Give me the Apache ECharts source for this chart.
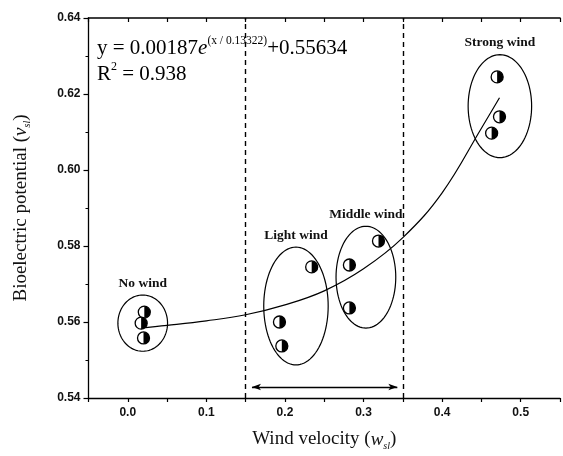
<!DOCTYPE html>
<html>
<head>
<meta charset="utf-8">
<script src="https://cdn.jsdelivr.net/npm/echarts@6/dist/echarts.min.js"></script>
<style>html,body{margin:0;padding:0;background:#fff;}#c{width:563px;height:456px;}</style>
</head>
<body>
<div id="c"></div>
<script>
// ---- data ----
const xTickLabels = ['0.0', '0.1', '0.2', '0.3', '0.4', '0.5'];
const yTickLabels = ['0.54', '0.56', '0.58', '0.60', '0.62', '0.64'];

const groupNames = ['No wind', 'Light wind', 'Middle wind', 'Strong wind'];

const noWindX = [0.021, 0.017, 0.020];
const noWindY = [0.5626, 0.5597, 0.5558];
const lightWindX = [0.234, 0.193, 0.196];
const lightWindY = [0.5745, 0.5600, 0.5537];
const middleWindX = [0.319, 0.282, 0.282];
const middleWindY = [0.5813, 0.5750, 0.5637];
const strongWindX = [0.470, 0.473, 0.463];
const strongWindY = [0.6245, 0.6140, 0.6097];

// group ellipses (centre and half-axes, data units)
const ellipseCX = [0.019, 0.214, 0.303, 0.4735];
const ellipseCY = [0.5597, 0.5642, 0.5718, 0.6168];
const ellipseRX = [0.0316, 0.041, 0.038, 0.0404];
const ellipseRY = [0.0074, 0.0155, 0.0134, 0.01355];

// fitted curve
const curveX = [0.016, 0.05, 0.10, 0.15, 0.20, 0.25, 0.30, 0.35, 0.40, 0.45, 0.473];
const curveY = [0.5584, 0.5591, 0.5603, 0.5619, 0.5645, 0.5682, 0.5740, 0.5822, 0.5940, 0.6110, 0.6190];

// dashed wind-range borders and the range arrow
const rangeX = [0.15, 0.35];
const arrowX = [0.158, 0.343];
const arrowY = 0.5429;

// ---- build ----
const pts = [];
[[noWindX, noWindY], [lightWindX, lightWindY], [middleWindX, middleWindY], [strongWindX, strongWindY]]
  .forEach(([xs, ys]) => xs.forEach((x, i) => pts.push([x, ys[i]])));

const ellData = groupNames.map((n, i) => [ellipseCX[i], ellipseCY[i], ellipseRX[i], ellipseRY[i], n]);
const curveData = curveX.map((x, i) => [x, curveY[i]]);

const serif = '"Liberation Serif", "DejaVu Serif", serif';
const sans = '"Liberation Sans", Arial, sans-serif';

function isTenth(v) { return Math.abs(v * 10 - Math.round(v * 10)) < 1e-6; }

const titleRich = {
  n: { fontFamily: serif, fontSize: 19, color: '#111', lineHeight: 23 },
  i: { fontFamily: serif, fontSize: 19, fontStyle: 'italic', color: '#111', lineHeight: 23 },
  s: { fontFamily: serif, fontSize: 10, fontStyle: 'italic', color: '#111', lineHeight: 23, verticalAlign: 'bottom' }
};

const chart = echarts.init(document.getElementById('c'), null, { renderer: 'canvas' });
chart.setOption({
  backgroundColor: '#fff',
  animation: false,
  grid: { left: 88.5, right: -1, top: 18, bottom: 58 },
  xAxis: [{
    type: 'value', min: -0.05, max: 0.55, interval: 0.05,
    position: 'bottom',
    axisLine: { show: true, onZero: false, lineStyle: { color: '#000', width: 1.3 } },
    axisTick: { show: true, length: 4, lineStyle: { color: '#000', width: 1.2 } },
    splitLine: { show: false },
    axisLabel: {
      color: '#111', fontFamily: sans, fontWeight: 'bold', fontSize: 12, margin: 9,
      formatter: v => {
        if (!isTenth(v)) return '';
        const k = Math.round(v * 10);
        return (k >= 0 && k < xTickLabels.length) ? xTickLabels[k] : '';
      }
    },
    name: '{n|Wind velocity (}{i|w}{s|sl}{n|)}',
    nameLocation: 'middle', nameGap: 30,
    nameTextStyle: { rich: titleRich }
  }, {
    type: 'value', min: -0.05, max: 0.55, interval: 0.05,
    position: 'top',
    axisLine: { show: true, onZero: false, lineStyle: { color: '#000', width: 1.6 } },
    axisTick: { show: true, inside: true, length: 4, lineStyle: { color: '#000', width: 1.2 } },
    axisLabel: { show: false },
    splitLine: { show: false }
  }],
  yAxis: {
    type: 'value', min: 0.54, max: 0.64, interval: 0.02,
    axisLine: { show: true, onZero: false, lineStyle: { color: '#000', width: 1.3 } },
    axisTick: { show: true, length: 5, lineStyle: { color: '#000', width: 1.2 } },
    minorTick: { show: true, splitNumber: 2, length: 3, lineStyle: { color: '#000', width: 1 } },
    splitLine: { show: false },
    axisLabel: {
      color: '#111', fontFamily: sans, fontWeight: 'bold', fontSize: 12, margin: 8,
      formatter: v => {
        const k = Math.round((v - 0.54) / 0.02);
        return yTickLabels[k] !== undefined ? yTickLabels[k] : '';
      }
    },
    name: '{n|Bioelectric potential (}{i|v}{s|sl}{n|)}',
    nameLocation: 'middle', nameGap: 56, nameRotate: 90,
    nameTextStyle: { rich: titleRich }
  },
  graphic: [{
    type: 'text', left: 97, top: 35, z: 100,
    style: {
      text: '{m|y = 0.00187}{e|e}{p|(x / 0.13322)}{m|+0.55634}\n{m|R}{q|2}{m| = 0.938}',
      rich: {
        m: { fontFamily: serif, fontSize: 21, color: '#111', lineHeight: 26 },
        e: { fontFamily: serif, fontSize: 21, fontStyle: 'italic', color: '#111', lineHeight: 26 },
        p: { fontFamily: serif, fontSize: 11.5, color: '#111', lineHeight: 26, verticalAlign: 'top' },
        q: { fontFamily: serif, fontSize: 12, color: '#111', lineHeight: 26, verticalAlign: 'top' }
      }
    }
  }],
  series: [
    {
      type: 'line', data: curveData, smooth: 0.4, showSymbol: false, silent: true,
      lineStyle: { color: '#000', width: 1.2 },
      markLine: {
        silent: true, symbol: 'none', label: { show: false },
        lineStyle: { color: '#000', width: 1.4, type: [5, 4] },
        data: rangeX.map(x => ({ xAxis: x }))
      },
      z: 3
    },
    {
      type: 'line', data: [], silent: true,
      markLine: {
        silent: true, symbol: ['arrow', 'arrow'], symbolSize: [5, 9], label: { show: false },
        lineStyle: { color: '#000', width: 1.3, type: 'solid' },
        data: [[{ coord: [arrowX[0], arrowY] }, { coord: [arrowX[1], arrowY] }]]
      }
    },
    {
      type: 'custom', data: ellData, silent: true, z: 2,
      renderItem: (params, api) => {
        const cx = api.value(0), cy = api.value(1), rx = api.value(2), ry = api.value(3);
        const poly = [];
        for (let k = 0; k < 96; k++) {
          const t = k / 96 * Math.PI * 2;
          poly.push(api.coord([cx + rx * Math.cos(t), cy + ry * Math.sin(t)]));
        }
        const top = api.coord([cx, cy + ry]);
        return {
          type: 'group',
          children: [{
            type: 'polygon', shape: { points: poly },
            style: { fill: 'none', stroke: '#000', lineWidth: 1.2 }
          }, {
            type: 'text', x: top[0], y: top[1] - 5,
            style: {
              text: ellData[params.dataIndex][4], fontFamily: serif, fontSize: 13.5,
              fontWeight: 'bold', fill: '#111', align: 'center', verticalAlign: 'bottom'
            }
          }]
        };
      }
    },
    {
      type: 'custom', data: pts, silent: true, z: 5,
      renderItem: (params, api) => {
        const p = api.coord([api.value(0), api.value(1)]);
        const r = 6;
        return {
          type: 'group',
          children: [{
            type: 'circle', shape: { cx: p[0], cy: p[1], r: r },
            style: { fill: '#fff', stroke: '#000', lineWidth: 1.3 }
          }, {
            type: 'sector', shape: { cx: p[0], cy: p[1], r0: 0, r: r, startAngle: -Math.PI / 2, endAngle: Math.PI / 2 },
            style: { fill: '#000' }
          }]
        };
      }
    }
  ]
});
</script>
</body>
</html>
